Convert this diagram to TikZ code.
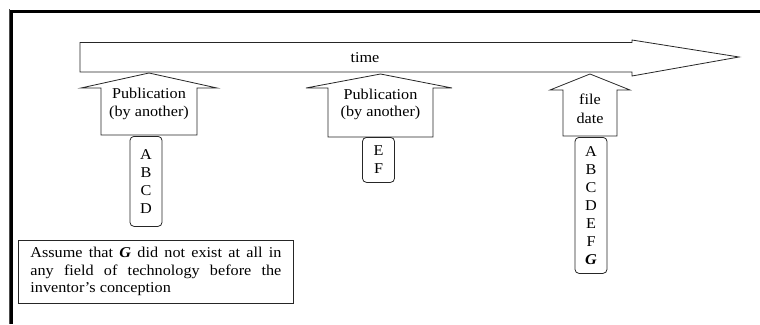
\documentclass[tikz,border=0pt]{standalone}
\usepackage{fontspec}
\setmainfont{Liberation Serif}[FakeStretch=1.08]

\begin{document}
\begin{tikzpicture}[x=1pt, y=-1pt, line join=miter,
  blockarrow/.style={draw=black!85, line width=0.8pt, fill=white},
  lbl/.style={font=\fontsize{15}{17.5}\selectfont, align=center, inner sep=0pt},
  letterbox/.style={draw=black!85, line width=0.8pt, rounded corners=4pt,
    font=\fontsize{15}{18}\selectfont, align=center, inner sep=0pt,
    minimum width=32pt, anchor=north},
  notebox/.style={draw=black!85, line width=0.8pt, anchor=north west,
    text width=251pt, inner xsep=12pt, inner ysep=7pt, align=justify,
    font=\fontsize{15}{17.5}\selectfont}]

\useasboundingbox (0,0) rectangle (760,324);

% page frame: thin outer rule and thick inner rule
\draw[line width=0.8pt, black!70] (9,9) -- (9,324);
\draw[line width=2.6pt] (11.7,324) -- (11.7,11.7) -- (760,11.7);

% time arrow
\draw[blockarrow] (80,42.5) -- (632,42.5) -- (632,40) -- (739,57)
  -- (632,76) -- (632,72) -- (80,72) -- cycle;
\node[lbl] (time) at (365,58) {time};

% first publication
\draw[blockarrow] (149,73) -- (217,88) -- (197,88) -- (197,135)
  -- (101,135) -- (101,88) -- (81,88) -- cycle;
\node[lbl] (pubA) at (149,104) {Publication\\(by another)};
\node[letterbox, minimum height=90pt] (setA) at (146,136) {A\\B\\C\\D};

% second publication
\draw[blockarrow] (380.5,74) -- (452,88) -- (433,88) -- (433,137)
  -- (328,137) -- (328,88) -- (306,88) -- cycle;
\node[lbl] (pubB) at (380.5,104.5) {Publication\\(by another)};
\node[letterbox, minimum height=45pt] (setB) at (378.5,137) {E\\F};

% file date
\draw[blockarrow] (590,74) -- (630,90) -- (617,90) -- (617,136)
  -- (563,136) -- (563,90) -- (550,90) -- cycle;
\node[lbl, font=\fontsize{15}{19}\selectfont] (file) at (590,109) {file\\date};
\node[letterbox, minimum height=136pt] (setC) at (591,137)
  {A\\B\\C\\D\\E\\F\\\textbf{\textit{G}}};

% note
\node[notebox] (note) at (18,240)
  {Assume that \textbf{\textit{G}} did not exist at all in\linebreak
   any field of technology before the\linebreak
   inventor’s conception};

\end{tikzpicture}
\end{document}
